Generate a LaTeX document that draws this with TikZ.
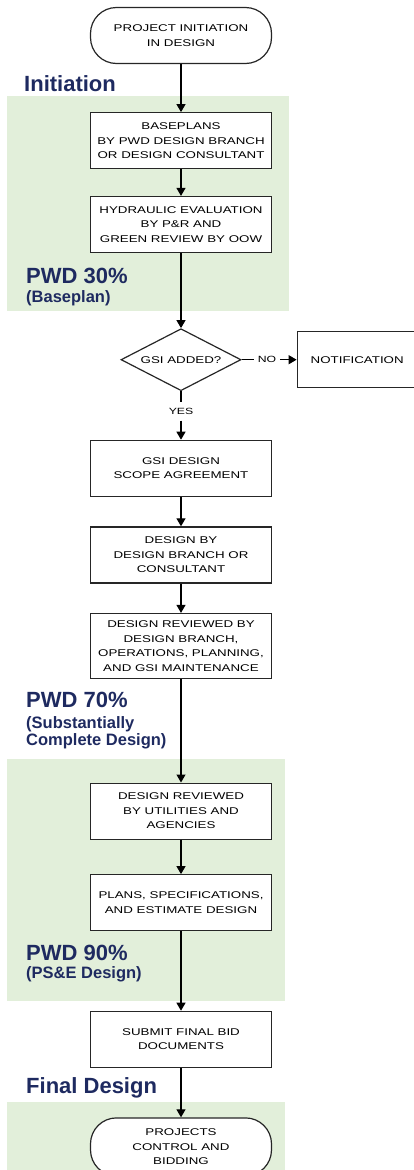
\documentclass[tikz,border=0pt]{standalone}
\usepackage{fontspec}
\setmainfont{Liberation Sans}
\newfontfamily\flowfont{Liberation Sans}[FakeStretch=1.36]
\usepackage{xcolor}
\usetikzlibrary{arrows.meta, positioning, shapes.geometric}
\definecolor{bandgreen}{RGB}{226,239,218}
\definecolor{phasenavy}{RGB}{30,42,96}

\begin{document}
\begin{tikzpicture}[
  x=1pt, y=-1pt,
  node distance=30pt,
  task/.style={rectangle, draw=black!85, fill=white, line width=1.2pt,
               minimum width=181pt, minimum height=56pt, inner sep=2pt,
               align=center, font=\flowfont\fontsize{9.8}{14.5}\selectfont},
  terminal/.style={task, rounded corners=26pt},
  decision/.style={diamond, aspect=1.9, draw=black!85, fill=white, line width=1.2pt,
                   minimum width=120pt, minimum height=62pt, inner sep=0pt,
                   font=\flowfont\fontsize{9.8}{14.5}\selectfont},
  answer/.style={inner xsep=4pt, inner ysep=0pt, minimum height=18pt,
                 font=\flowfont\fontsize{9}{10}\selectfont},
  phase/.style={anchor=base west, inner sep=0pt, text=phasenavy,
                font=\bfseries\fontsize{22}{26}\selectfont},
  subphase/.style={anchor=base west, inner sep=0pt, text=phasenavy,
                   font=\bfseries\fontsize{16.5}{18}\selectfont},
  band/.style={fill=bandgreen},
  arr/.style={-{Triangle[length=8pt, width=9pt]}, line width=1.2pt, black},
  ln/.style={line width=1.2pt, black},
]
\useasboundingbox (0,0) rectangle (413,1170);

% Phase bands
\fill[band] (7,96) rectangle (289,311);
\fill[band] (7,759) rectangle (285,1001);
\fill[band] (7,1102) rectangle (285,1170);

% Start
\node[terminal] (start) at (181,35.5) {PROJECT INITIATION\\IN DESIGN};

% Initiation
\node[task, below=48pt of start] (base) {BASEPLANS\\BY PWD DESIGN BRANCH\\OR DESIGN CONSULTANT};
\node[task, below=26.6pt of base] (hyd) {HYDRAULIC EVALUATION\\BY P\&R AND\\GREEN REVIEW BY OOW};

% Decision
\node[decision, below=75pt of hyd] (dec) {GSI ADDED?};
\node[answer, right=12pt of dec] (no) {NO};
\node[task, minimum width=120pt, right=55pt of dec] (note) {NOTIFICATION};
\node[answer, below=11pt of dec] (yes) {YES};

% GSI design
\node[task, below=19pt of yes] (gsi) {GSI DESIGN\\SCOPE AGREEMENT};
\node[task, below=29.4pt of gsi] (des) {DESIGN BY\\DESIGN BRANCH OR\\CONSULTANT};
\node[task, minimum height=65pt, below=29.4pt of des] (rev) {DESIGN REVIEWED BY\\DESIGN BRANCH,\\OPERATIONS, PLANNING,\\AND GSI MAINTENANCE};

% Review and PS&E
\node[task, below=103.4pt of rev] (util) {DESIGN REVIEWED\\BY UTILITIES AND\\AGENCIES};
\node[task, below=34.4pt of util] (pse) {PLANS, SPECIFICATIONS,\\AND ESTIMATE DESIGN};
\node[task, below=79.4pt of pse] (bid) {SUBMIT FINAL BID\\DOCUMENTS};

% End
\node[terminal, minimum height=58pt, below=49.4pt of bid] (finish) {PROJECTS\\CONTROL AND\\BIDDING};

% Phase labels
\node[phase] (ph1) at (24,91) {Initiation};
\node[phase] (ph30) at (26,283) {PWD 30\%};
\node[subphase] (sub30) at (26,302) {(Baseplan)};
\node[phase] (ph70) at (26,707) {PWD 70\%};
\node[subphase] (sub70a) at (26,728) {(Substantially};
\node[subphase] (sub70b) at (26,745) {Complete Design)};
\node[phase] (ph90) at (26,960) {PWD 90\%};
\node[subphase] (sub90) at (26,978) {(PS\&E Design)};
\node[phase] (phf) at (26,1093) {Final Design};

% Flow
\draw[arr] (start) -- (base);
\draw[arr] (base) -- (hyd);
\draw[arr] (hyd) -- (dec);
\draw[ln] (dec) -- (no);
\draw[arr] (no) -- (note);
\draw[ln] (dec) -- (yes);
\draw[arr] (yes) -- (gsi);
\draw[arr] (gsi) -- (des);
\draw[arr] (des) -- (rev);
\draw[arr] (rev) -- (util);
\draw[arr] (util) -- (pse);
\draw[arr] (pse) -- (bid);
\draw[arr] (bid) -- (finish);

\end{tikzpicture}
\end{document}
